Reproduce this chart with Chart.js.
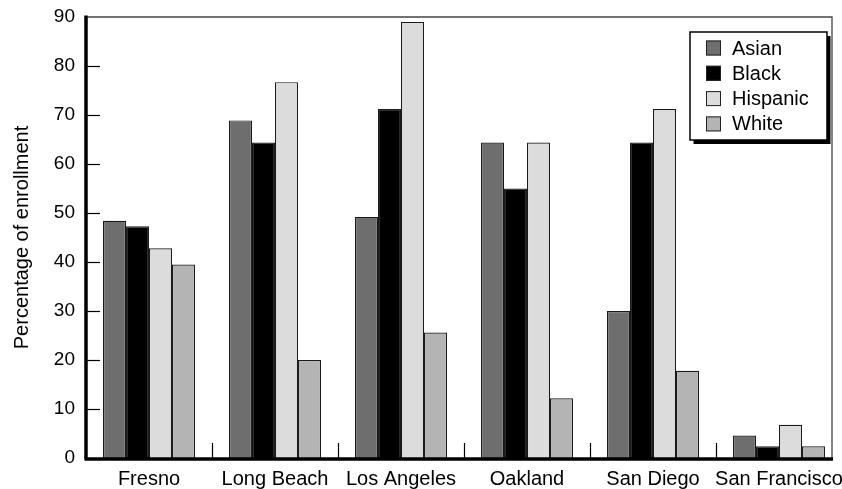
<!DOCTYPE html>
<html>
<head>
<meta charset="utf-8">
<script src="https://cdn.jsdelivr.net/npm/chart.js@4.4.0/dist/chart.umd.min.js"></script>
<style>
  body { margin: 0; background: #fff; }
  #wrap { width: 842px; height: 489px; }
</style>
</head>
<body>
<div id="wrap"><canvas id="enrollChart" width="842" height="489"></canvas></div>
<script>
// DATA
const cities = ['Fresno', 'Long Beach', 'Los Angeles', 'Oakland', 'San Diego', 'San Francisco'];
const asian = [48.4, 68.9, 49.2, 64.4, 30.0, 4.6];
const black = [47.3, 64.4, 71.2, 55.0, 64.4, 2.4];
const hispanic = [42.8, 76.7, 89.0, 64.4, 71.2, 6.8];
const white = [39.5, 20.0, 25.6, 12.2, 17.8, 2.4];
const yTicks = [0, 10, 20, 30, 40, 50, 60, 70, 80, 90];

const FONT = "'Liberation Sans', Arial, Helvetica, sans-serif";

// frame, inward ticks, thick axes
const framePlugin = {
    id: 'frame',
    afterDatasetsDraw(chart) {
        const c = chart.ctx;
        const area = chart.chartArea;
        const x = chart.scales.x;
        const y = chart.scales.y;
        const left = area.left;
        const bottom = y.getPixelForValue(0);
        const top = y.getPixelForValue(90);
        const rightEdge = 832;

        c.save();
        c.strokeStyle = '#000';

        // y ticks pointing inward
        c.lineWidth = 1.2;
        yTicks.slice(1, -1).forEach(v => {
            const py = Math.round(y.getPixelForValue(v)) + 0.5;
            c.beginPath();
            c.moveTo(left, py);
            c.lineTo(left + 14, py);
            c.stroke();
        });

        // x ticks between categories
        for (let i = 1; i < cities.length; i++) {
            const px = Math.round((x.getPixelForValue(i - 1) + x.getPixelForValue(i)) / 2) + 0.5;
            c.beginPath();
            c.moveTo(px, bottom);
            c.lineTo(px, bottom - 15);
            c.stroke();
        }

        // top and right border
        c.strokeStyle = '#444';
        c.lineWidth = 1.3;
        c.beginPath();
        c.moveTo(left, top);
        c.lineTo(rightEdge, top);
        c.lineTo(rightEdge, bottom);
        c.stroke();

        // thick axes
        c.strokeStyle = '#000';
        c.lineWidth = 3.5;
        c.beginPath();
        c.moveTo(left, top - 1.5);
        c.lineTo(left, bottom + 1);
        c.stroke();
        c.beginPath();
        c.moveTo(left - 1.5, bottom + 1);
        c.lineTo(rightEdge + 1, bottom + 1);
        c.stroke();
        c.restore();
    }
};

// boxed legend with drop shadow
const legendBoxPlugin = {
    id: 'legendBox',
    afterDraw(chart) {
        const c = chart.ctx;
        const bx = 690, by = 32, bw = 137, bh = 108;
        c.save();
        c.fillStyle = '#000';
        c.fillRect(bx + 3.5, by + 4, bw, bh);
        c.fillStyle = '#fff';
        c.fillRect(bx, by, bw, bh);
        c.strokeStyle = '#000';
        c.lineWidth = 1.5;
        c.strokeRect(bx, by, bw, bh);

        c.font = '20px ' + FONT;
        c.textBaseline = 'middle';
        chart.data.datasets.forEach((ds, i) => {
            const cy = by + 16 + i * 25.3;
            c.fillStyle = ds.backgroundColor;
            c.fillRect(bx + 16, cy - 7.5, 15, 15);
            c.strokeStyle = '#222';
            c.lineWidth = 1;
            c.strokeRect(bx + 16.5, cy - 7, 14, 14);
            c.fillStyle = '#000';
            c.fillText(ds.label, bx + 42, cy + 1);
        });
        c.restore();
    }
};

const barStyle = { borderColor: '#1a1a1a', borderWidth: 1.2, borderSkipped: 'bottom', barPercentage: 1.0, categoryPercentage: 0.73 };

new Chart(document.getElementById('enrollChart').getContext('2d'), {
    type: 'bar',
    data: {
        labels: cities,
        datasets: [
            { label: 'Asian', data: asian, backgroundColor: '#6e6e6e', ...barStyle },
            { label: 'Black', data: black, backgroundColor: '#000000', ...barStyle },
            { label: 'Hispanic', data: hispanic, backgroundColor: '#dcdcdc', ...barStyle },
            { label: 'White', data: white, backgroundColor: '#b4b4b4', ...barStyle }
        ]
    },
    options: {
        responsive: false,
        devicePixelRatio: 1,
        animation: false,
        layout: { padding: { top: 17, right: 0, bottom: 0, left: 0 } },
        plugins: {
            legend: { display: false },
            tooltip: { enabled: false }
        },
        scales: {
            x: {
                grid: { display: false, drawTicks: false },
                border: { display: false },
                ticks: { color: '#000', font: { family: FONT, size: 20 }, padding: 9, maxRotation: 0, autoSkip: false },
                afterFit(scale) {
                    scale.height = 31;
                    scale.paddingLeft = 0;
                    scale.paddingRight = 0;
                }
            },
            y: {
                min: 0,
                max: 90,
                grid: { display: false, drawTicks: false },
                border: { display: false },
                ticks: { stepSize: 10, color: '#000', font: { family: FONT, size: 19 }, padding: 11 },
                title: {
                    display: true,
                    text: 'Percentage of enrollment',
                    color: '#000',
                    font: { family: FONT, size: 20 },
                    padding: { top: 10, bottom: 0 }
                },
                afterFit(scale) {
                    scale.width = 86;
                    scale.paddingTop = 0;
                    scale.paddingBottom = 0;
                }
            }
        }
    },
    plugins: [framePlugin, legendBoxPlugin]
});
</script>
</body>
</html>
